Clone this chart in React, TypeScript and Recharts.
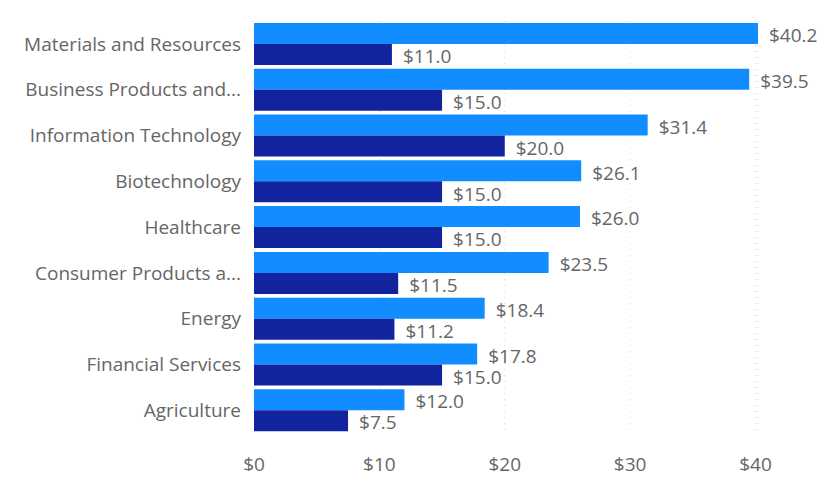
import React from 'react';
import { BarChart, Bar, XAxis, YAxis, CartesianGrid, LabelList } from 'recharts';

const categories = [
  'Materials and Resources',
  'Business Products and...',
  'Information Technology',
  'Biotechnology',
  'Healthcare',
  'Consumer Products a...',
  'Energy',
  'Financial Services',
  'Agriculture',
];
const seriesA = [40.2, 39.5, 31.4, 26.1, 26.0, 23.5, 18.4, 17.8, 12.0];
const seriesB = [11.0, 15.0, 20.0, 15.0, 15.0, 11.5, 11.2, 15.0, 7.5];
const xTicks = [0, 10, 20, 30, 40];

const data = categories.map((name, i) => ({ name, a: seriesA[i], b: seriesB[i] }));

const font = '"Open Sans", "Noto Sans", sans-serif';
const textColor = '#666666';
const money = (v: any) => `$${Number(v).toFixed(1)}`;

const App: React.FC = () => {
  return (
    <div style={{ margin: -8, width: 834, height: 479, background: '#fff', fontFamily: font }}>
      <BarChart
        width={834}
        height={479}
        data={data}
        layout="vertical"
        margin={{ top: 21, right: 76, left: 0, bottom: 0 }}
        barCategoryGap={2}
        barGap={0}
      >
        <CartesianGrid horizontal={false} stroke="#d6d6d6" strokeDasharray="1 5" />
        <XAxis
          type="number"
          domain={[0, 40.2]}
          ticks={xTicks}
          tickFormatter={(v) => `$${v}`}
          axisLine={false}
          tickLine={false}
          tickSize={0}
          tickMargin={25}
          tick={{ fill: textColor, fontSize: 19, fontFamily: font }}
          height={46}
        />
        <YAxis
          type="category"
          dataKey="name"
          width={254}
          axisLine={false}
          tickLine={false}
          tickSize={0}
          tickMargin={13}
          interval={0}
          tick={{ fill: textColor, fontSize: 19, fontFamily: font }}
        />
        <Bar dataKey="a" fill="#118DFF" isAnimationActive={false}>
          <LabelList dataKey="a" position="right" offset={11} dy={2} formatter={money} fill={textColor} fontSize={19} fontFamily={font} />
        </Bar>
        <Bar dataKey="b" fill="#12239E" isAnimationActive={false}>
          <LabelList dataKey="b" position="right" offset={11} dy={2} formatter={money} fill={textColor} fontSize={19} fontFamily={font} />
        </Bar>
      </BarChart>
    </div>
  );
};

export default App;
